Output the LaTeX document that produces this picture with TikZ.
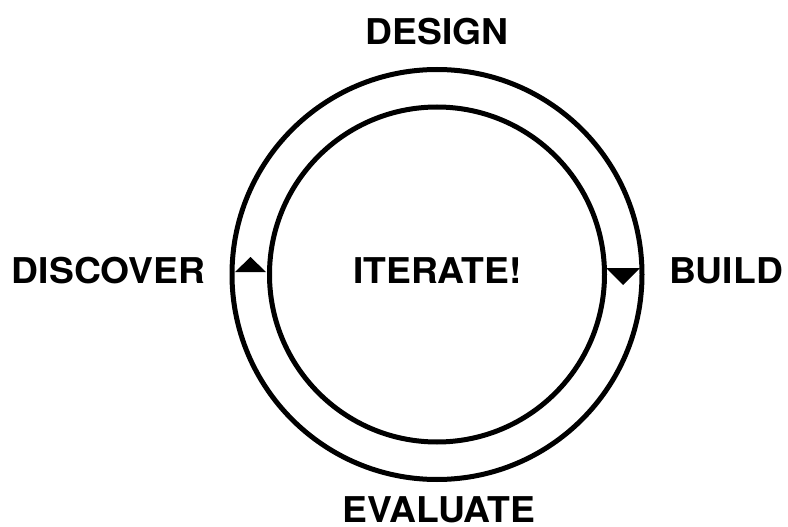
\documentclass[tikz,border=0pt]{standalone}
\usepackage{fontspec}
\setmainfont[FakeStretch=1.05]{TeX Gyre Heros}
\begin{document}
\begin{tikzpicture}[x=1pt,y=-1pt,
  label/.style={font=\fontsize{35.5}{40}\selectfont\bfseries, inner sep=0pt, anchor=base},
  ring/.style={line width=5pt, draw=black}]
\useasboundingbox (0,0) rectangle (788,527);
\coordinate (c) at (437,274.5);
\draw[ring] (c) circle[radius=205];
\draw[ring] (c) circle[radius=167.5];
\fill (235,272) -- (250.5,257) -- (266,272) -- cycle;
\fill (606,268) -- (623,285) -- (640,268) -- cycle;
\node[label] (design) at (437,45) {DESIGN};
\node[label] (discover) at (108.5,283) {DISCOVER};
\node[label] (build) at (726,283) {BUILD};
\node[label] (iterate) at (437.5,283) {ITERATE!};
\node[label] (evaluate) at (439,522.5) {EVALUATE};
\end{tikzpicture}
\end{document}
